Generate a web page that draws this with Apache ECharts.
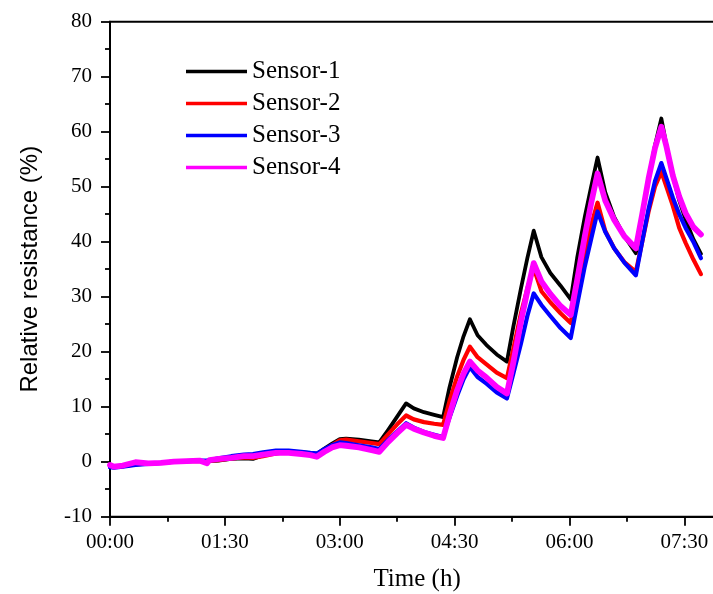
<!DOCTYPE html>
<html>
<head>
<meta charset="utf-8">
<script src="https://cdn.jsdelivr.net/npm/echarts@6/dist/echarts.min.js"></script>
<style>
html,body{margin:0;padding:0;background:#fff;}
#chart{width:713px;height:594px;}
</style>
</head>
<body>
<div id="chart"></div>
<script>
// time in minutes since start
var timeMin = [0, 3, 10, 20, 30, 40, 50, 60, 70, 76, 78, 85, 95, 105, 112, 120, 130, 140, 150, 157, 162, 168, 174, 180, 185, 195, 205, 211, 218, 225, 232, 238, 246, 254, 261, 266, 272, 277, 282, 288, 295, 303, 311, 316, 322, 327, 332, 338, 345, 353, 361, 366, 372, 377, 382, 388, 395, 403, 412, 417, 422, 427, 432, 436, 441, 446, 451, 457, 463];

var sensor1 = [-0.8, -1.0, -0.8, -0.5, -0.3, -0.2, 0.0, 0.1, 0.1, 0.1, 0.1, 0.2, 0.5, 0.6, 0.5, 1.2, 1.5, 1.7, 1.6, 1.4, 1.4, 2.4, 3.3, 4.1, 4.2, 4.0, 3.7, 3.5, 5.8, 8.2, 10.6, 9.7, 9.0, 8.5, 8.1, 13.5, 19.0, 22.8, 25.9, 23.0, 21.2, 19.5, 18.2, 24.5, 31.5, 37.0, 42.0, 37.2, 34.3, 32.0, 29.5, 37.0, 44.5, 50.0, 55.3, 49.0, 44.5, 41.0, 37.9, 45.0, 51.5, 57.5, 62.4, 57.5, 52.0, 47.5, 44.0, 40.5, 37.8];

var sensor2 = [-0.9, -1.0, -0.8, -0.5, -0.3, -0.2, 0.0, 0.1, 0.1, 0.1, 0.2, 0.3, 0.6, 0.8, 0.7, 1.0, 1.5, 1.8, 1.7, 1.5, 1.4, 2.1, 3.0, 3.9, 4.0, 3.7, 3.4, 3.2, 5.0, 6.8, 8.4, 7.7, 7.2, 6.9, 6.7, 11.0, 15.5, 18.5, 20.9, 19.0, 17.7, 16.2, 15.2, 20.5, 27.0, 31.5, 35.2, 31.0, 29.0, 27.0, 25.2, 31.5, 38.0, 43.0, 47.1, 42.0, 38.8, 36.3, 34.5, 40.0, 45.5, 50.0, 52.7, 50.0, 46.5, 42.5, 39.8, 36.8, 34.1];

var sensor3 = [-1.0, -1.1, -0.9, -0.6, -0.4, -0.2, 0.0, 0.1, 0.2, 0.2, 0.3, 0.6, 1.0, 1.3, 1.4, 1.7, 2.0, 2.0, 1.8, 1.6, 1.5, 2.3, 3.0, 3.5, 3.4, 3.0, 2.6, 2.3, 4.0, 5.5, 7.0, 6.2, 5.4, 4.9, 4.5, 8.0, 12.0, 15.0, 17.2, 15.4, 14.2, 12.6, 11.5, 16.0, 21.5, 26.5, 30.6, 28.5, 26.5, 24.3, 22.5, 28.5, 35.5, 40.5, 45.5, 41.8, 38.8, 36.2, 33.9, 40.0, 46.0, 51.0, 54.3, 51.5, 48.0, 45.0, 42.5, 40.0, 37.0];

var sensor4 = [-0.6, -0.9, -0.7, -0.1, -0.3, -0.2, 0.0, 0.1, 0.2, -0.3, 0.3, 0.5, 0.7, 1.0, 1.0, 1.3, 1.6, 1.6, 1.4, 1.2, 0.9, 1.8, 2.6, 3.0, 2.9, 2.6, 2.1, 1.8, 3.6, 5.2, 6.7, 6.0, 5.3, 4.7, 4.3, 8.5, 13.0, 16.0, 18.2, 16.6, 15.3, 13.6, 12.4, 18.0, 25.5, 31.0, 36.1, 32.8, 30.5, 28.3, 26.7, 33.0, 41.0, 47.0, 52.4, 47.5, 44.0, 41.0, 38.8, 45.0, 51.5, 57.0, 60.9, 57.3, 52.0, 48.2, 45.2, 42.7, 41.3];

var seriesNames = ['Sensor-1', 'Sensor-2', 'Sensor-3', 'Sensor-4'];
var seriesColors = ['#000000', '#ff0000', '#0000ff', '#ff00ff'];
var seriesWidths = [3.8, 4.2, 4.2, 5.8];
var seriesValues = [sensor1, sensor2, sensor3, sensor4];

var xTickLabels = ['00:00', '01:30', '03:00', '04:30', '06:00', '07:30', '09:00'];

function pairs(vals) {
  return timeMin.map(function (t, i) { return [t, vals[i]]; });
}

var chart = echarts.init(document.getElementById('chart'), null, {renderer: 'canvas'});

var serif = 'Liberation Serif, Times New Roman, serif';
var sans = 'Liberation Sans, Arial, sans-serif';

var option = {
  animation: false,
  backgroundColor: '#ffffff',
  grid: {
    left: 110, top: 21.7, right: -86.2, bottom: 77.3,
    outerBoundsMode: 'none', containLabel: false,
    show: true, borderColor: '#000', borderWidth: 2, backgroundColor: 'transparent'
  },
  legend: {
    orient: 'vertical',
    left: 181, top: 54, padding: 5,
    icon: 'rect',
    itemWidth: 61, itemHeight: 3.5, itemGap: 7,
    textStyle: {fontFamily: serif, fontSize: 25, color: '#000'},
    data: seriesNames
  },
  xAxis: {
    type: 'value', min: 0, max: 540, interval: 90,
    name: 'Time (h)', nameLocation: 'middle', nameGap: 50,
    nameTextStyle: {fontFamily: serif, fontSize: 25, color: '#000', padding: [0, 75, 0, 0]},
    axisLine: {show: true, onZero: false, lineStyle: {color: '#000', width: 2}},
    axisTick: {show: true, inside: false, length: 9, lineStyle: {color: '#000', width: 1.8}},
    minorTick: {show: true, splitNumber: 2, length: 5, lineStyle: {color: '#000', width: 1.8}},
    splitLine: {show: false},
    axisLabel: {
      fontFamily: serif, fontSize: 21, color: '#000', margin: 15,
      formatter: function (v) { return xTickLabels[Math.round(v / 90)] || ''; }
    }
  },
  yAxis: {
    type: 'value', min: -10, max: 80, interval: 10,
    name: 'Relative resistance (%)', nameLocation: 'middle', nameGap: 68,
    nameTextStyle: {fontFamily: sans, fontSize: 24, color: '#000'},
    axisLine: {show: true, lineStyle: {color: '#000', width: 2}},
    axisTick: {show: true, inside: false, length: 9, lineStyle: {color: '#000', width: 1.8}},
    minorTick: {show: true, splitNumber: 2, length: 5, lineStyle: {color: '#000', width: 1.8}},
    splitLine: {show: false},
    axisLabel: {fontFamily: serif, fontSize: 21, color: '#000', margin: 18}
  },
  series: seriesNames.map(function (name, i) {
    return {
      name: name, type: 'line', showSymbol: false, symbol: 'none',
      color: seriesColors[i],
      lineStyle: {color: seriesColors[i], width: seriesWidths[i], join: 'round', cap: 'round'},
      data: pairs(seriesValues[i]),
      z: 2 + i
    };
  })
};
chart.setOption(option);
</script>
</body>
</html>
